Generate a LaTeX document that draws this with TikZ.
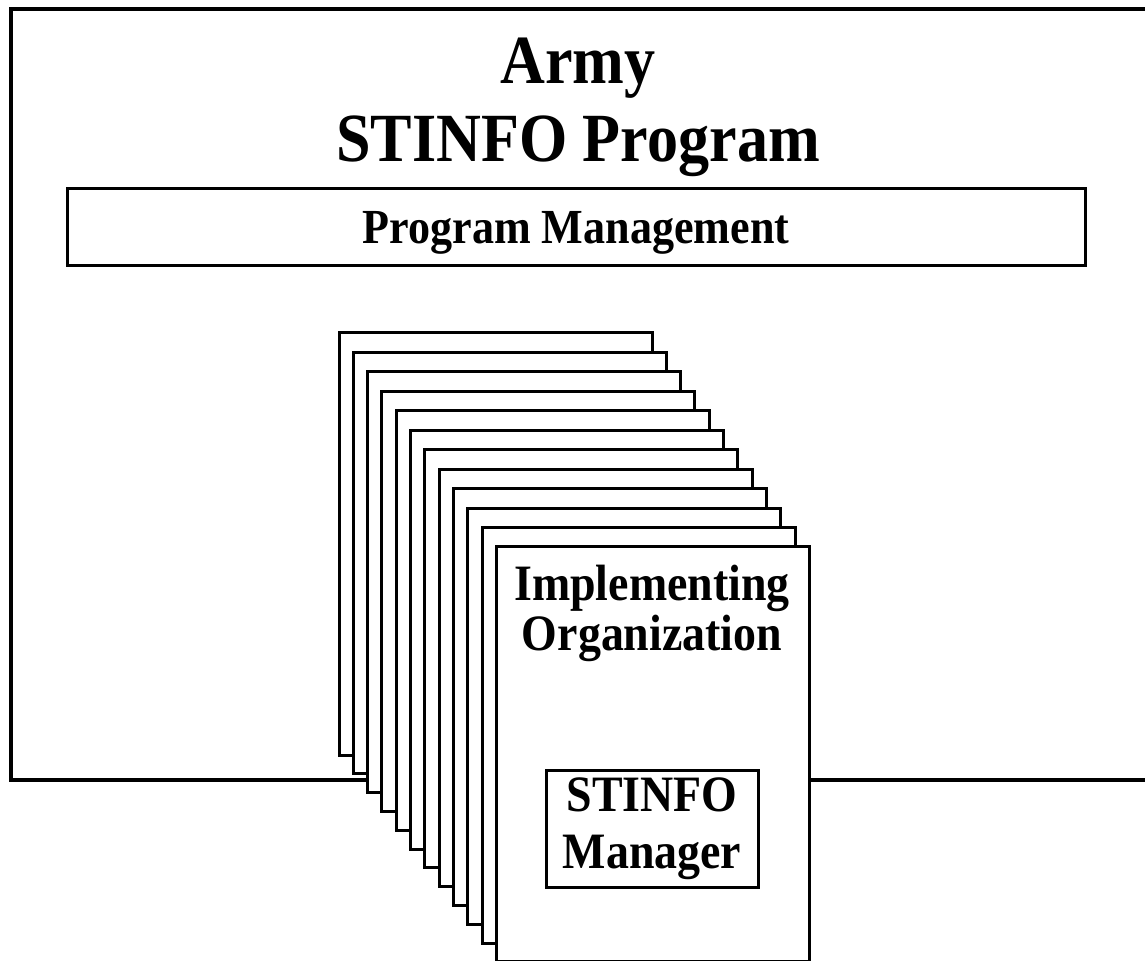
\documentclass[tikz,border=0pt]{standalone}
\usepackage{fontspec}
\setmainfont[FakeStretch=0.9]{Liberation Serif}
\usepackage{tikz}
\newcommand{\tightlines}{\lineskiplimit=-50pt\relax}

\begin{document}
\begin{tikzpicture}[x=0.5pt, y=-0.5pt,
		frame/.style={line width=2pt},
		page/.style={line width=1.5pt, fill=white},
		title/.style={align=center, font={\bfseries\fontsize{34.5}{39}\selectfont\tightlines}},
		mgmtbox/.style={draw, line width=1.5pt, minimum width=509pt, minimum height=38.5pt, text height=16pt, text depth=0pt, font={\bfseries\fontsize{24.5}{28}\selectfont}},
		orglabel/.style={align=center, font={\bfseries\fontsize{25.5}{25}\selectfont\tightlines}},
		mgrbox/.style={draw, line width=1.5pt, align=center, minimum width=106pt, minimum height=58.5pt, inner sep=0pt, font={\bfseries\fontsize{25.5}{28.5}\selectfont\tightlines}}]
		\useasboundingbox (0,0) rectangle (1145,961);
		\clip (0,0) rectangle (1145,961);
		
		\draw[frame] (11,9.5) rectangle (1160,780);
		\draw (578,107) node[title] (prog) {Army\\STINFO Program};
		\draw (576,227.5) node[mgmtbox] (mgmt) {Program Management};
		
		\foreach \i in {0,...,11}
			\draw[page] (339+14.3*\i, 333+19.45*\i) rectangle ++(313, 422-0.65*\i);
		
		\draw (652,613) node[orglabel] (org) {Implementing\\Organization};
		\draw (652,828.5) node[mgrbox] (mgr) {STINFO\\Manager};
	\end{tikzpicture}
\end{document}
